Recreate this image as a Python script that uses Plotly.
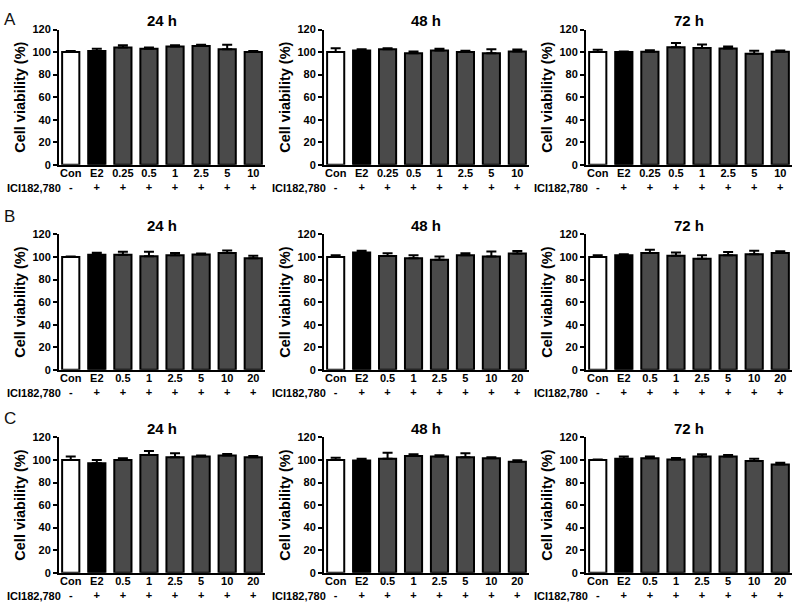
import plotly.graph_objects as go

# ---------------- data ----------------
cats_A = ["Con", "E2", "0.25", "0.5", "1", "2.5", "5", "10"]
cats_BC = ["Con", "E2", "0.5", "1", "2.5", "5", "10", "20"]
ici_signs = ["-", "+", "+", "+", "+", "+", "+", "+"]
times = ["24 h", "48 h", "72 h"]

A24_mean = [100, 101, 104, 103, 105, 105.5, 102.5, 100]
A24_err = [1, 2, 2, 1, 1, 1, 4, 1]
A48_mean = [100, 101.5, 102.5, 99, 101.5, 100, 99, 100.5]
A48_err = [3.5, 1, 1, 1.5, 1.5, 1.2, 3.5, 1.8]
A72_mean = [100, 100, 100.3, 104.3, 103.7, 103.2, 98.6, 100.3]
A72_err = [2, 0.5, 1.4, 3.7, 3, 1.7, 2.5, 1.1]

B24_mean = [100, 102, 102, 100.6, 101.5, 102.3, 103.5, 99]
B24_err = [0.5, 1.8, 2.6, 4, 2, 0.8, 2.3, 2]
B48_mean = [100, 104, 100.8, 99, 97.5, 101.6, 100.4, 103]
B48_err = [1.5, 1.5, 2.6, 2.6, 3, 1.7, 4.4, 2.4]
B72_mean = [100, 101.5, 103.5, 101, 98.5, 101.5, 102.5, 103.5]
B72_err = [1.5, 1, 3, 3, 3, 3, 3, 1.5]

C24_mean = [100, 97, 100, 104.5, 102.5, 103, 104, 102.5]
C24_err = [3, 3, 1.5, 3.5, 3.5, 1, 1.2, 1]
C48_mean = [100, 99.5, 101, 103.5, 103, 102.5, 101.5, 98.5]
C48_err = [2, 1.5, 5.5, 1.5, 1.2, 3.5, 0.8, 1.2]
C72_mean = [100, 101, 101.5, 100.5, 103, 103, 99, 96]
C72_err = [0.5, 2, 1.5, 1.2, 2, 1.5, 2, 1.5]

bar_colors = ["#ffffff", "#000000"] + ["#4a4a4a"] * 6
y_ticks = [0, 20, 40, 60, 80, 100, 120]

panels = [
    ("A", cats_A, [(A24_mean, A24_err), (A48_mean, A48_err), (A72_mean, A72_err)]),
    ("B", cats_BC, [(B24_mean, B24_err), (B48_mean, B48_err), (B72_mean, B72_err)]),
    ("C", cats_BC, [(C24_mean, C24_err), (C48_mean, C48_err), (C72_mean, C72_err)]),
]

# ---------------- layout geometry (pixels) ----------------
W, H = 800, 615
col_px = [(59, 265), (324, 529), (586, 792)]
row_px = [(24, 162), (233, 371), (440, 578)]  # (top, bottom)
letter_px = [14, 215, 421]

FONT = "Arial, Liberation Sans, sans-serif"

fig = go.Figure()
annotations = []
layout_axes = {}

k = 0
for r, (letter, cats, series) in enumerate(panels):
    top, bot = row_px[r]
    ydom = [1 - bot / H, 1 - top / H]
    annotations.append(dict(text=letter, x=2 / W, y=1 - letter_px[r] / H, xref="paper", yref="paper",
                            xanchor="left", yanchor="middle", showarrow=False,
                            font=dict(family=FONT, size=17, color="#111")))
    for c, (mean, err) in enumerate(series):
        k += 1
        x0, x1 = col_px[c]
        xdom = [x0 / W, x1 / W]
        xa = "x" if k == 1 else f"x{k}"
        ya = "y" if k == 1 else f"y{k}"
        fig.add_trace(go.Bar(
            x=list(range(len(cats))), y=mean, xaxis=xa, yaxis=ya,
            marker=dict(color=bar_colors, line=dict(color="#000", width=2)),
            width=0.66,
            error_y=dict(type="data", symmetric=False, array=err, arrayminus=[0] * len(err),
                         color="#000", thickness=2, width=5),
            showlegend=False, hoverinfo="skip",
        ))
        ticktext = [f"<b>{cc}</b><br><b>{s}</b>" for cc, s in zip(cats, ici_signs)]
        layout_axes["xaxis" if k == 1 else f"xaxis{k}"] = dict(
            domain=xdom, anchor=ya, range=[-0.45, 7.45],
            tickmode="array", tickvals=list(range(len(cats))), ticktext=ticktext,
            ticks="", showline=True, linecolor="#000", linewidth=2, showgrid=False, zeroline=False,
            tickfont=dict(family=FONT, size=11, color="#000"), fixedrange=True,
            ticklabelstandoff=-3,
        )
        layout_axes["yaxis" if k == 1 else f"yaxis{k}"] = dict(
            domain=ydom, anchor=xa, range=[0, 120], tickvals=y_ticks,
            ticktext=[f"<b>{v}</b>" for v in y_ticks],
            ticks="outside", ticklen=4, tickwidth=1.5, tickcolor="#000",
            showline=True, linecolor="#000", linewidth=2, showgrid=False, zeroline=False,
            tickfont=dict(family=FONT, size=11, color="#000"), fixedrange=True,
            title=dict(text="<b>Cell viability (%)</b>", font=dict(family=FONT, size=14.5, color="#000"),
                       standoff=3),
        )
        # panel title
        annotations.append(dict(text=f"<b>{times[c]}</b>", x=(x0 + x1) / 2 / W, y=1 - (top - 9) / H,
                                xref="paper", yref="paper", xanchor="center", yanchor="middle",
                                showarrow=False, font=dict(family=FONT, size=15, color="#000")))
        # ICI label
        annotations.append(dict(text="<b>ICI182,780</b>", x=(x0 + 4) / W, y=1 - (bot + 24) / H,
                                xref="paper", yref="paper", xanchor="right", yanchor="middle",
                                showarrow=False, font=dict(family=FONT, size=11, color="#000")))

fig.update_layout(
    width=W, height=H, margin=dict(l=0, r=0, t=0, b=0),
    paper_bgcolor="#fff", plot_bgcolor="#fff",
    bargap=0.34, annotations=annotations,
    font=dict(family=FONT, color="#000"),
    **layout_axes,
)

fig.write_html("out.html", config={"displayModeBar": False},
               post_script="document.body.style.margin='0';document.body.style.padding='0';")
